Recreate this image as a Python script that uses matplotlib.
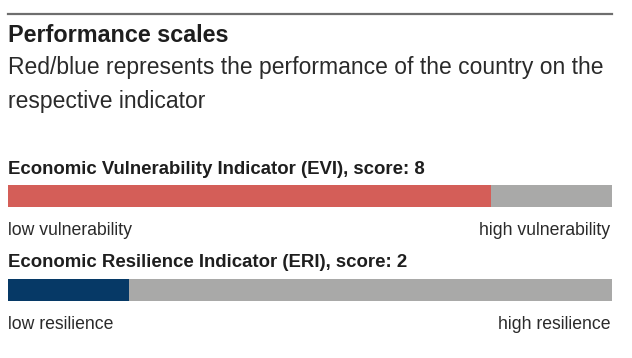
import matplotlib
matplotlib.use("Agg")
import matplotlib.pyplot as plt

# ---- data ----
title = "Performance scales"
subtitle_lines = ["Red/blue represents the performance of the country on the",
                  "respective indicator"]
indicators = ["Economic Vulnerability Indicator (EVI)", "Economic Resilience Indicator (ERI)"]
scores = [8, 2]
max_score = 10
low_labels = ["low vulnerability", "low resilience"]
high_labels = ["high vulnerability", "high resilience"]
score_colors = ["#d45e58", "#063966"]
rest_color = "#a9a9a8"

W, H = 632, 358
fig = plt.figure(figsize=(W / 100, H / 100), dpi=100)
fig.patch.set_facecolor("white")

def fx(px):
    return px / W

def fy(py):
    return 1 - py / H

FONT = "Liberation Sans"
LEFT, RIGHT = 8, 612

# top rule
fig.add_artist(plt.Line2D([fx(LEFT), fx(RIGHT)], [fy(14), fy(14)], color="#6e6e6e", lw=1.6))

fig.text(fx(LEFT), fy(42), title, family=FONT, weight="bold", fontsize=16.8,
         color="#1e1e1e", va="baseline", ha="left")
for i, line in enumerate(subtitle_lines):
    fig.text(fx(LEFT), fy(74 + i * 34), line, family=FONT, fontsize=16.5,
             color="#2a2a2a", va="baseline", ha="left")

bar_tops = [185, 279]
bar_h = 22
label_base = [174, 267]
tick_base = [235, 329]

for i in range(len(scores)):
    ax = fig.add_axes([fx(LEFT), fy(bar_tops[i] + bar_h), fx(RIGHT - LEFT), bar_h / H])
    ax.barh([0], [scores[i]], color=score_colors[i], height=1, left=0)
    ax.barh([0], [max_score - scores[i]], left=scores[i], color=rest_color, height=1)
    ax.set_xlim(0, max_score)
    ax.set_ylim(-0.5, 0.5)
    ax.axis("off")
    fig.text(fx(LEFT), fy(label_base[i]), f"{indicators[i]}, score: {scores[i]}",
             family=FONT, weight="bold", fontsize=13.4, color="#1e1e1e",
             va="baseline", ha="left")
    fig.text(fx(LEFT), fy(tick_base[i]), low_labels[i], family=FONT, fontsize=12.7,
             color="#2a2a2a", va="baseline", ha="left")
    fig.text(fx(RIGHT - 2), fy(tick_base[i]), high_labels[i], family=FONT, fontsize=12.7,
             color="#2a2a2a", va="baseline", ha="right")

fig.savefig("out.png", dpi=100, facecolor="white")
